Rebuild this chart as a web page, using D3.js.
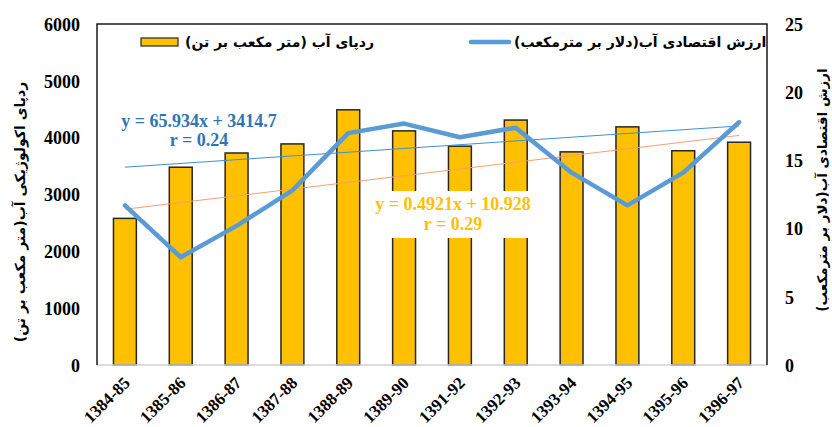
<!DOCTYPE html>
<html lang="fa">
<head>
  <meta charset="UTF-8">
  <title>Water footprint and economic value</title>
  <style>
    body { margin: 0; padding: 0; background: #ffffff; }
    svg { display: block; }
    .tick-y { font-family: 'Liberation Serif', 'Times New Roman', serif; font-weight: bold; font-size: 18px; fill: #000; }
    .tick-x { font-family: 'Liberation Serif', 'Times New Roman', serif; font-weight: bold; font-size: 17px; fill: #000; }
    .fa { font-family: 'DejaVu Sans', 'Noto Sans', sans-serif; font-weight: bold; fill: #000; }
    .eq { font-family: 'Liberation Serif', 'Times New Roman', serif; font-weight: bold; font-size: 18px; }
  </style>
</head>
<body>
<svg width="832" height="427"></svg>
<script src="https://d3js.org/d3.v7.min.js"></script>
<script>
  // chart data
  const categories = ["1384-85", "1385-86", "1386-87", "1387-88", "1388-89", "1389-90",
                      "1391-92", "1392-93", "1393-94", "1394-95", "1395-96", "1396-97"];
  const footprint = [2580, 3480, 3730, 3890, 4490, 4120, 3850, 4310, 3750, 4190, 3770, 3920];
  const econValue = [11.7, 7.9, 10.2, 12.8, 17.0, 17.7, 16.7, 17.4, 14.1, 11.7, 14.1, 17.8];
  const leftTicks = [0, 1000, 2000, 3000, 4000, 5000, 6000];
  const rightTicks = [0, 5, 10, 15, 20, 25];
  // trend lines as printed on the chart
  const barTrend = { slope: 65.934, intercept: 3414.7, r: 0.24 };
  const lineTrend = { slope: 0.4921, intercept: 10.928, r: 0.29 };

  const labels = {
    bar: "ردپای آب (متر مکعب بر تن)",
    line: "ارزش اقتصادی آب(دلار بر مترمکعب)",
    left: "ردپای اکولوژیکی آب(متر مکعب بر تن)",
    right: "ارزش اقتصادی آب(دلار بر مترمکعب)"
  };

  const margin = { top: 24, right: 65, bottom: 62, left: 97 };
  const width = 832, height = 427;
  const x0 = margin.left, x1 = width - margin.right;
  const y0 = height - margin.bottom, y1 = margin.top;

  const svg = d3.select("svg");

  const x = d3.scaleBand().domain(categories).range([x0, x1]).paddingInner(0.59).paddingOuter(0.295);
  const yL = d3.scaleLinear().domain([0, 6000]).range([y0, y1]);
  const yR = d3.scaleLinear().domain([0, 25]).range([y0, y1]);
  const xc = i => x(categories[i]) + x.bandwidth() / 2;

  // bars
  svg.append("g").selectAll("rect")
    .data(footprint)
    .enter()
    .append("rect")
    .attr("x", (d, i) => x(categories[i]))
    .attr("y", d => yL(d))
    .attr("width", x.bandwidth())
    .attr("height", d => y0 - yL(d))
    .attr("fill", "#FFC000")
    .attr("stroke", "#262626")
    .attr("stroke-width", 1.5);

  // trend lines
  const ends = [0, categories.length - 1];
  svg.append("line")
    .attr("x1", xc(ends[0])).attr("x2", xc(ends[1]))
    .attr("y1", yL(barTrend.slope * 1 + barTrend.intercept))
    .attr("y2", yL(barTrend.slope * categories.length + barTrend.intercept))
    .attr("stroke", "#3d8fd6").attr("stroke-width", 1);
  svg.append("line")
    .attr("x1", xc(ends[0])).attr("x2", xc(ends[1]))
    .attr("y1", yR(lineTrend.slope * 1 + lineTrend.intercept))
    .attr("y2", yR(lineTrend.slope * categories.length + lineTrend.intercept))
    .attr("stroke", "#F4A070").attr("stroke-width", 1);

  // value line
  const line = d3.line().x((d, i) => xc(i)).y(d => yR(d));
  svg.append("path")
    .datum(econValue)
    .attr("d", line)
    .attr("fill", "none")
    .attr("stroke", "#5B9BD5")
    .attr("stroke-width", 4.5)
    .attr("stroke-linejoin", "round")
    .attr("stroke-linecap", "round");

  // equation labels
  svg.append("rect")
    .attr("x", 365).attr("y", 191).attr("width", 180).attr("height", 47)
    .attr("fill", "#ffffff");
  const eqB = svg.append("text").attr("class", "eq").attr("fill", "#2E75B6").attr("text-anchor", "middle");
  eqB.append("tspan").attr("x", 199).attr("y", 127).text(`y = ${barTrend.slope}x + ${barTrend.intercept}`);
  eqB.append("tspan").attr("x", 199).attr("y", 146).text(`r = ${barTrend.r}`);
  const eqL = svg.append("text").attr("class", "eq").attr("fill", "#FFC000").attr("text-anchor", "middle");
  eqL.append("tspan").attr("x", 453).attr("y", 210).text(`y = ${lineTrend.slope}x + ${lineTrend.intercept}`);
  eqL.append("tspan").attr("x", 453).attr("y", 230).text(`r = ${lineTrend.r}`);

  // frame
  svg.append("line").attr("x1", x0).attr("x2", x1).attr("y1", y0).attr("y2", y0)
    .attr("stroke", "#d0d0d0").attr("stroke-width", 1.5);
  svg.append("path")
    .attr("d", `M${x0},${y0}V${y1}H${x1}V${y0}`)
    .attr("fill", "none").attr("stroke", "#1a1a1a").attr("stroke-width", 1.5);

  // axes
  const axL = svg.append("g").attr("transform", `translate(${x0},0)`)
    .call(d3.axisLeft(yL).tickValues(leftTicks).tickFormat(d3.format("d")).tickSize(0).tickPadding(17));
  axL.select(".domain").remove();
  axL.selectAll("text").attr("class", "tick-y").attr("dy", "0.35em");

  const axR = svg.append("g").attr("transform", `translate(${x1},0)`)
    .call(d3.axisRight(yR).tickValues(rightTicks).tickFormat(d3.format("d")).tickSize(0).tickPadding(18));
  axR.select(".domain").remove();
  axR.selectAll("text").attr("class", "tick-y").attr("dy", "0.35em");

  const axB = svg.append("g").attr("transform", `translate(0,${y0})`)
    .call(d3.axisBottom(x).tickSize(0).tickPadding(0));
  axB.select(".domain").remove();
  axB.selectAll("text")
    .attr("class", "tick-x")
    .attr("text-anchor", "end")
    .attr("dy", 0)
    .attr("transform", "translate(6,19) rotate(-45)");

  // axis titles
  svg.append("text").attr("class", "fa").attr("font-size", 14)
    .attr("text-anchor", "middle")
    .attr("transform", "translate(25,212) rotate(-90)")
    .text(labels.left);
  svg.append("text").attr("class", "fa").attr("font-size", 13.5)
    .attr("text-anchor", "middle")
    .attr("transform", "translate(827,190) rotate(-90)")
    .text(labels.right);

  // legend
  svg.append("rect").attr("x", 141).attr("y", 38).attr("width", 37).attr("height", 8)
    .attr("fill", "#FFC000").attr("stroke", "#262626").attr("stroke-width", 1.2);
  svg.append("text").attr("class", "fa").attr("font-size", 14)
    .attr("x", 185).attr("y", 47).attr("text-anchor", "start")
    .text(labels.bar);
  svg.append("line").attr("x1", 471).attr("x2", 509).attr("y1", 42).attr("y2", 42)
    .attr("stroke", "#5B9BD5").attr("stroke-width", 4.5).attr("stroke-linecap", "round");
  svg.append("text").attr("class", "fa").attr("font-size", 14)
    .attr("x", 514).attr("y", 47).attr("text-anchor", "start")
    .text(labels.line);
</script>
</body>
</html>
